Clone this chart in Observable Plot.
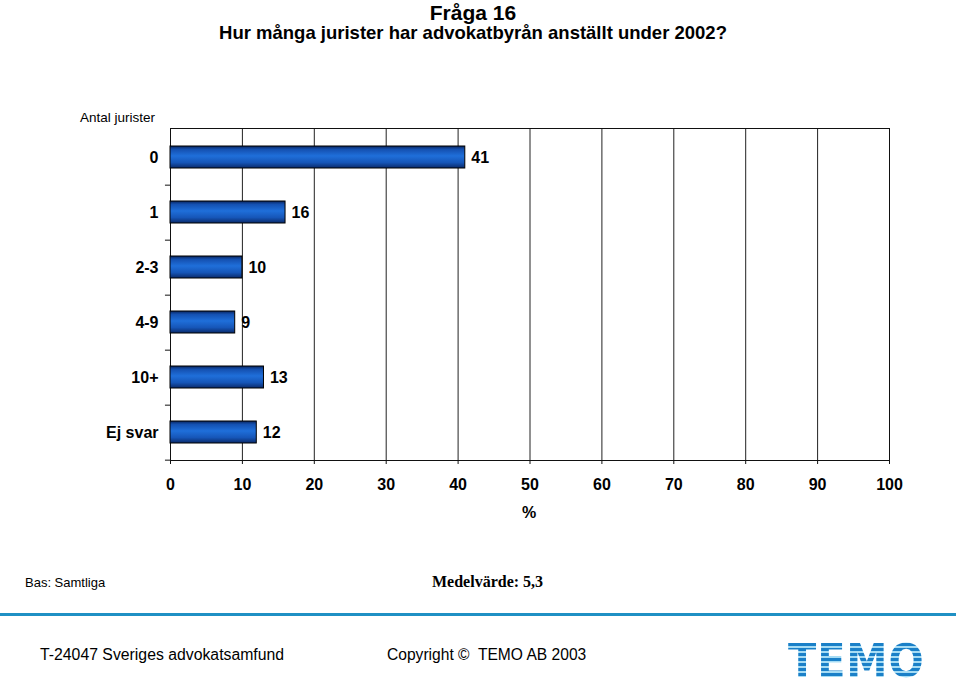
<!DOCTYPE html>
<html><head><meta charset="utf-8">
<script src="https://cdn.jsdelivr.net/npm/d3@7"></script>
<script src="https://cdn.jsdelivr.net/npm/@observablehq/plot@0.6"></script>
<style>
body{margin:0;background:#fff;font-family:"Liberation Sans",Arial,sans-serif;}
#wrap{position:relative;width:960px;height:692px;overflow:hidden;background:#fff}
.t{position:absolute;white-space:nowrap;color:#000;line-height:1}
#chart{position:absolute;left:0;top:0}
#logo{position:absolute;left:788px;top:638px;font-family:"DejaVu Sans",sans-serif;font-weight:bold;font-size:46px;letter-spacing:1px;line-height:1;
 transform:scaleX(0.9);transform-origin:left top;
 background:repeating-linear-gradient(180deg,#1a80c8 0px,#1a80c8 3px,#a6dcf4 3px,#a6dcf4 5px);
 -webkit-background-clip:text;background-clip:text;color:transparent}
</style></head><body>
<div id="wrap">
  <div id="chart"></div>
  <div class="t" style="left:0;width:946px;text-align:center;top:2px;font-size:21px;font-weight:bold">Fråga 16</div>
  <div class="t" style="left:0;width:946px;text-align:center;top:24px;font-size:18.5px;font-weight:bold">Hur många jurister har advokatbyrån anställt under 2002?</div>
  <div class="t" style="left:0;width:155px;text-align:right;top:111px;font-size:13.5px">Antal jurister</div>
  <div class="t" style="left:429px;width:200px;text-align:center;top:505px;font-size:16px;font-weight:bold">%</div>
  <div class="t" style="left:25px;top:576px;font-size:13px">Bas: Samtliga</div>
  <div class="t" style="left:432px;top:574px;font-size:16px;font-weight:bold;font-family:'Liberation Serif','Times New Roman',serif">Medelvärde: 5,3</div>
  <div style="position:absolute;left:0;top:613px;width:956px;height:3px;background:#1f90c4"></div>
  <div class="t" style="left:40px;top:647px;font-size:15.8px">T-24047 Sveriges advokatsamfund</div>
  <div class="t" style="left:387px;top:647px;font-size:15.6px">Copyright ©&nbsp; TEMO AB 2003</div>
  <div id="logo">TEMO</div>
</div>
<script>
const categories = ["0", "1", "2-3", "4-9", "10+", "Ej svar"];
const values = [41, 16, 10, 9, 13, 12];
const xTicks = [0, 10, 20, 30, 40, 50, 60, 70, 80, 90, 100];

const data = categories.map((c, i) => ({cat: c, value: values[i]}));

const chart = Plot.plot({
  width: 960,
  height: 692,
  marginLeft: 170,
  marginRight: 71,
  marginTop: 128,
  marginBottom: 232,
  style: {fontFamily: "'Liberation Sans', Arial, sans-serif", fontSize: "16px", fontWeight: "bold", background: "transparent", color: "#000", overflow: "visible"},
  x: {domain: [0, 100]},
  y: {domain: categories, paddingInner: 0.6, paddingOuter: 0.3},
  marks: [
    Plot.ruleX(xTicks.slice(1), {stroke: "#222", strokeWidth: 1}),
    Plot.frame({stroke: "#111", strokeWidth: 1}),
    Plot.barX(data, {x: "value", y: "cat", fill: "url(#barGrad)", stroke: "#000", strokeWidth: 1}),
    Plot.text(data, {x: "value", y: "cat", text: d => String(d.value), textAnchor: "start", dx: 6, fontSize: 16, fontWeight: "bold", fill: "#000"}),
    Plot.axisX({ticks: xTicks, tickSize: 4, tickPadding: 14, label: null, tickFormat: d => String(d), stroke: "#111", fontSize: 16}),
    Plot.axisY({tickSize: 0, tickPadding: 12, label: null, fontSize: 16}),
    Plot.ruleY(categories, {y: d => d, x1: -0.7, x2: 0, dy: 27.67, stroke: "#111"})
  ]
});

d3.select(chart).insert("defs", ":first-child").html(`
  <linearGradient id="barGrad" x1="0" y1="0" x2="0" y2="1">
    <stop offset="0" stop-color="#08245c"/>
    <stop offset="0.15" stop-color="#1450b0"/>
    <stop offset="0.45" stop-color="#1f6fda"/>
    <stop offset="0.75" stop-color="#1656b8"/>
    <stop offset="1" stop-color="#0a2a6a"/>
  </linearGradient>`);

document.getElementById("chart").appendChild(chart);
</script>
</body></html>
